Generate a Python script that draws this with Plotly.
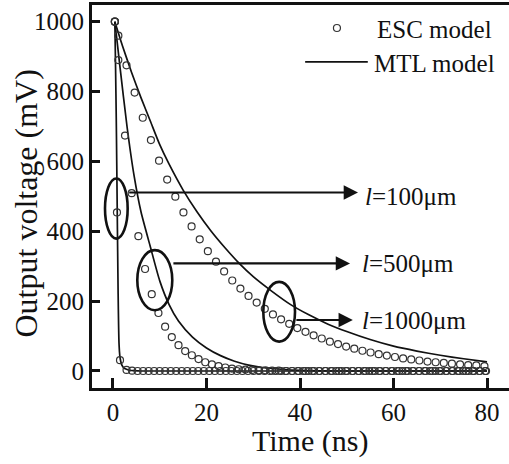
import plotly.graph_objects as go

# ---------------- data ----------------
# ESC model markers
t_esc_100 = [0.4, 0.85, 1.5, 2.9, 4.08, 5.26, 6.44, 7.62, 8.8, 9.98, 11.16, 12.34, 13.52, 14.7,
             15.88, 17.06, 18.24, 19.42, 20.6, 21.78, 22.96, 24.14, 25.32, 26.5, 27.68, 28.86,
             30.04, 31.22, 32.4, 33.58, 34.76, 35.94, 37.12, 38.3, 39.48, 40.66, 41.84, 43.02,
             44.2, 45.38, 46.56, 47.74, 48.92, 50.1, 51.28, 52.46, 53.64, 54.82, 56.0, 57.18,
             58.36, 59.54, 60.72, 61.9, 63.08, 64.26, 65.44, 66.62, 67.8, 68.98, 70.16, 71.34,
             72.52, 73.7, 74.88, 76.06, 77.24, 78.42, 79.6]
v_esc_100 = [1000, 454, 31, 3, 1, 0, 0, 0, 0, 0, 0, 0, 0, 0,
             0, 0, 0, 0, 0, 0, 0, 0, 0, 0, 0, 0,
             0, 0, 0, 0, 0, 0, 0, 0, 0, 0, 0, 0,
             0, 0, 0, 0, 0, 0, 0, 0, 0, 0, 0, 0,
             0, 0, 0, 0, 0, 0, 0, 0, 0, 0, 0, 0,
             0, 0, 0, 0, 0, 0, 0]

t_esc_500 = [0.4, 1.14, 2.57, 4.0, 5.43, 6.86, 8.29, 9.72, 11.15, 12.58, 14.01, 15.44, 16.87,
             18.3, 19.73, 21.16, 22.59, 24.02, 25.45, 26.88, 28.31, 29.74, 31.17, 32.6, 34.03,
             35.46, 36.89, 38.32, 39.75, 41.18, 42.61, 44.04, 45.47, 46.9, 48.33, 49.76, 51.19,
             52.62, 54.05, 55.48, 56.91, 58.34, 59.77, 61.2, 62.63, 64.06, 65.49, 66.92, 68.35,
             69.78, 71.21, 72.64, 74.07, 75.5, 76.93, 78.36, 79.79]
v_esc_500 = [1000, 890, 674, 509, 386, 292, 220, 166, 127, 97, 74, 57, 45,
             34, 25, 19, 14, 10, 7, 5, 4, 3, 2, 2, 1,
             1, 0, 0, 0, 0, 0, 0, 0, 0, 0, 0, 0,
             0, 0, 0, 0, 0, 0, 0, 0, 0, 0, 0, 0,
             0, 0, 0, 0, 0, 0, 0, 0]

t_esc_1000 = [0.4, 1.15, 2.89, 4.63, 6.37, 8.11, 9.85, 11.59, 13.33, 15.07, 16.81, 18.55, 20.29,
              22.03, 23.77, 25.51, 27.25, 28.99, 30.73, 32.47, 34.21, 35.95, 37.69, 39.43,
              41.17, 42.91, 44.65, 46.39, 48.13, 49.87, 51.61, 53.35, 55.09, 56.83, 58.57,
              60.31, 62.05, 63.79, 65.53, 67.27, 69.01, 70.75, 72.49, 74.23, 75.97, 77.71, 79.45]
v_esc_1000 = [1000, 960, 875, 797, 725, 661, 602, 548, 499, 454, 414, 377, 343,
              313, 285, 259, 236, 215, 196, 178, 162, 148, 135, 123,
              112, 102, 93, 84, 77, 70, 64, 58, 53, 48, 44,
              40, 36, 33, 30, 27, 25, 23, 21, 19, 17, 16, 14]

# MTL model curves
t_mtl_100 = [0.4, 0.55, 0.7, 0.8, 0.9, 1.0, 1.1, 1.2, 1.3, 1.45, 1.65, 1.9, 2.3, 2.9, 3.6, 4.5, 6, 80]
v_mtl_100 = [1000, 870, 720, 600, 470, 340, 220, 130, 75, 45, 28, 17, 9, 5, 2, 1, 0, 0]

t_mtl_500 = [0.4, 1.5, 3.0, 4.5, 6.0, 8.0, 10.0, 12.0, 14.0, 17.0, 20.0, 23.0, 26.0, 29.0,
             32.0, 36.0, 40.0, 50.0, 80.0]
v_mtl_500 = [1000, 870, 700, 560, 455, 355, 258, 190, 143, 97, 66, 44, 28, 17,
             10, 5, 2, 0, 0]

t_mtl_1000 = [0.4, 2, 4, 6, 8, 10, 12, 15, 18, 21, 24, 27, 30, 34, 38, 42, 46, 50, 55, 60,
              65, 70, 75, 80]
v_mtl_1000 = [1000, 932, 854, 782, 715, 648, 592, 518, 455, 400, 352, 308, 270, 228, 190,
              160, 134, 113, 90, 71, 57, 45, 35, 26]

x_ticks = [0, 20, 40, 60, 80]
y_ticks = [0, 200, 400, 600, 800, 1000]

length_labels = ["<i>l</i>=100\u03bcm", "<i>l</i>=500\u03bcm", "<i>l</i>=1000\u03bcm"]
legend_labels = ["ESC model", "MTL model"]

FONT = "Liberation Serif"
INK = "#111111"
MK = "#333333"

fig = go.Figure()

for t, v, nm in [(t_mtl_100, v_mtl_100, "MTL 100"),
                 (t_mtl_500, v_mtl_500, "MTL 500"),
                 (t_mtl_1000, v_mtl_1000, "MTL 1000")]:
    fig.add_trace(go.Scatter(x=t, y=v, mode="lines", name=nm, showlegend=False,
                             line=dict(color=INK, width=1.7, shape="spline", smoothing=0.6)))

for t, v, nm in [(t_esc_100, v_esc_100, "ESC 100"),
                 (t_esc_500, v_esc_500, "ESC 500"),
                 (t_esc_1000, v_esc_1000, "ESC 1000")]:
    fig.add_trace(go.Scatter(x=t, y=v, mode="markers", name=nm, showlegend=False,
                             marker=dict(symbol="circle-open", size=7, color=MK,
                                         line=dict(width=1.2, color=MK))))

# legend (drawn manually)
fig.add_trace(go.Scatter(x=[47.9], y=[982], mode="markers", showlegend=False, hoverinfo="skip",
                         marker=dict(symbol="circle-open", size=7, color=MK,
                                     line=dict(width=1.2, color=MK))))
fig.add_shape(type="line", x0=41.1, x1=54.5, y0=885, y1=885, line=dict(color=INK, width=1.7))
fig.add_annotation(x=56.0, y=978, text=legend_labels[0], showarrow=False, xanchor="left",
                   yanchor="middle", font=dict(family=FONT, size=25, color=INK))
fig.add_annotation(x=55.4, y=881, text=legend_labels[1], showarrow=False, xanchor="left",
                   yanchor="middle", font=dict(family=FONT, size=25, color=INK))

# ellipses
for x0, x1, y0, y1 in [(-1.71, 3.14, 379, 551), (5.2, 12.68, 174, 346), (32.15, 38.93, 84, 255)]:
    fig.add_shape(type="circle", x0=x0, x1=x1, y0=y0, y1=y1, line=dict(color=INK, width=2.6))

# arrows + labels
arrows = [(3.14, 52.4, 511, 500), (12.6, 50.7, 308, 308), (38.9, 51.3, 146, 144)]
label_x = [53.5, 52.8, 52.8]
for (xt, xh, ya, yl), lab, lx in zip(arrows, length_labels, label_x):
    fig.add_annotation(x=xh, y=ya, ax=xt, ay=ya, axref="x", ayref="y", xref="x", yref="y",
                       text="", showarrow=True, arrowhead=2, arrowsize=1.3, arrowwidth=2.2,
                       arrowcolor=INK, standoff=0, startstandoff=0)
    fig.add_annotation(x=lx, y=yl, text=lab, showarrow=False, xanchor="left", yanchor="middle",
                       font=dict(family=FONT, size=25, color=INK))

# axis titles
fig.add_annotation(xref="paper", yref="paper", x=(310 - 92) / 417, y=(388 - 441) / 383,
                   text="Time (ns)", showarrow=False, xanchor="center", yanchor="middle",
                   font=dict(family=FONT, size=30, color=INK))
fig.add_annotation(xref="paper", yref="paper", x=(25.5 - 92) / 417, y=(388 - 204) / 383,
                   text="Output voltage (mV)", showarrow=False, textangle=-90,
                   xanchor="center", yanchor="middle",
                   font=dict(family=FONT, size=32, color=INK))

fig.update_layout(
    width=509, height=464,
    margin=dict(l=92, r=0, t=5, b=76),
    paper_bgcolor="white", plot_bgcolor="white",
    font=dict(family=FONT, color=INK),
    showlegend=False,
)
fig.update_xaxes(range=[-4.49, 84.7], tickvals=x_ticks, ticks="inside", ticklen=10, tickwidth=3,
                 tickcolor=INK, showline=True, linewidth=3, linecolor=INK, mirror=True,
                 showgrid=False, zeroline=False, ticklabelstandoff=0,
                 tickfont=dict(family=FONT, size=25, color=INK))
fig.update_yaxes(range=[-48.7, 1047.8], tickvals=y_ticks, ticks="inside", ticklen=8, tickwidth=3,
                 tickcolor=INK, showline=True, linewidth=3, linecolor=INK, mirror=False,
                 showgrid=False, zeroline=False,
                 tickfont=dict(family=FONT, size=25, color=INK))

fig.write_html("out.html")
